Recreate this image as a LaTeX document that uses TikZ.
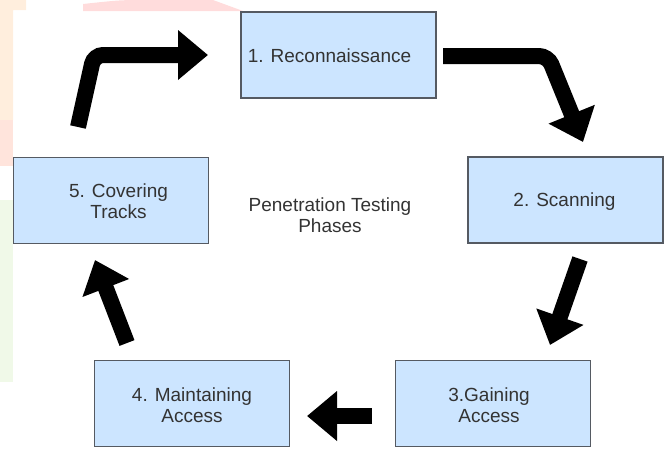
\documentclass[tikz,border=0pt]{standalone}
\usepackage{fontspec}
\setmainfont{Liberation Sans}
\usetikzlibrary{arrows.meta}
\definecolor{boxfill}{HTML}{CCE5FF}
\definecolor{boxline}{HTML}{555A62}
\definecolor{txt}{HTML}{333333}
\definecolor{bgorange}{HTML}{FFEEDD}
\definecolor{bgpink}{HTML}{FFE4DC}
\definecolor{bgred}{HTML}{FFDCDC}
\definecolor{bggreen}{HTML}{F0F9E8}
\begin{document}
\begin{tikzpicture}[x=1pt,y=-1pt,
  phasebox/.style={draw=boxline,fill=boxfill,line width=1.4pt,minimum width=195pt,minimum height=86pt,inner sep=0pt},
  lbl/.style={text=txt,font=\fontsize{19}{21}\selectfont,align=center,inner sep=0pt},
  bigarrow/.style={line width=16pt,line cap=butt,-{Triangle[width=48pt,length=30pt]},rounded corners=9pt}]
\useasboundingbox (0,0) rectangle (665,448);
% faint background remnants
\fill[bgorange] (0,0) -- (26,0) -- (26,10) -- (13,10) -- (13,120) -- (0,120) -- cycle;
\fill[bgpink] (0,120) rectangle (13,166);
\fill[bgred] (83,4) .. controls (120,0) .. (150,0) -- (213,0) -- (243,11) -- (83,11) -- cycle;
\fill[bggreen] (0,200) rectangle (13,382);
% boxes
\node[phasebox] (b1) at (338.5,55) {};
\node[phasebox] (b2) at (565.5,200) {};
\node[phasebox] (b3) at (493,403.5) {};
\node[phasebox] (b4) at (192,403.5) {};
\node[phasebox] (b5) at (111,200.5) {};
% labels
\node[lbl] (t1) at (329.5,56) {1. Reconnaissance};
\node[lbl] (t2) at (564.5,202) {2. Scanning};
\node[lbl] (t3) at (489,405) {3.Gaining\\Access};
\node[lbl] (t4) at (192,405) {4. Maintaining\\Access};
\node[lbl] (t5) at (118.5,201.5) {5. Covering\\Tracks};
\node[lbl] (tc) at (330,215.5) {Penetration Testing\\Phases};
% arrow ends
\coordinate (a51s) at (78,127);
\coordinate (a51c) at (94,55);
\coordinate (a51e) at (208,55);
\coordinate (a12s) at (443,56);
\coordinate (a12c) at (548,56);
\coordinate (a12e) at (583,142);
\coordinate (a23s) at (580,259);
\coordinate (a23e) at (550,345);
\coordinate (a34s) at (372,416);
\coordinate (a34e) at (307,416);
\coordinate (a45s) at (127,343);
\coordinate (a45e) at (95,260);
% arrows
\draw[bigarrow] (a51s) -- (a51c) -- (a51e);
\draw[bigarrow] (a12s) -- (a12c) -- (a12e);
\draw[bigarrow] (a23s) -- (a23e);
\draw[bigarrow] (a34s) -- (a34e);
\draw[bigarrow] (a45s) -- (a45e);
\end{tikzpicture}
\end{document}
